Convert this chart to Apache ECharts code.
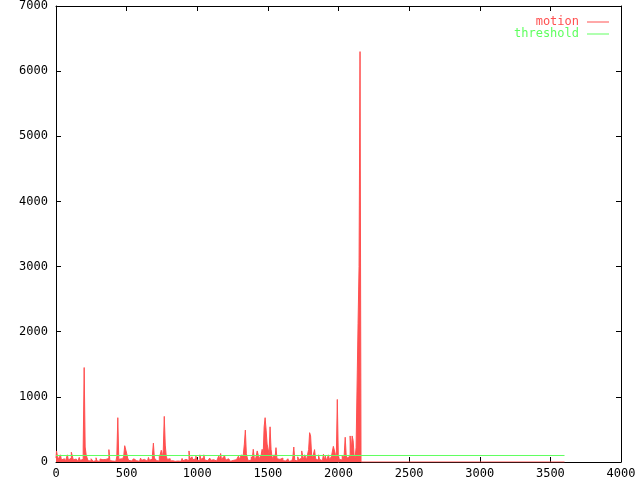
<!DOCTYPE html>
<html>
<head>
<meta charset="utf-8">
<script src="https://cdn.jsdelivr.net/npm/echarts@6/dist/echarts.min.js"></script>
<style>
  html, body { margin: 0; padding: 0; background: #fff; }
  #motionChart { width: 640px; height: 480px; }
</style>
</head>
<body>
<div id="motionChart"></div>
<script>
// sample spacing (seconds) of the motion readings
const sampleStep = 7
// motion level per sample
const motionValues = [
  60, 170, 90, 40, 20, 110, 30, 15, 50, 25,
  10, 40, 110, 30, 20, 60, 150, 120, 35, 15,
  45, 20, 10, 30, 70, 25, 15, 40, 230, 1450,
  230, 110, 60, 20, 35, 15, 50, 25, 10, 40,
  20, 65, 15, 30, 10, 45, 20, 35, 15, 25,
  40, 10, 30, 55, 190, 20, 35, 15, 45, 25,
  10, 30, 80, 680, 40, 20, 50, 15, 30, 90,
  250, 220, 130, 60, 25, 40, 15, 30, 10, 50,
  35, 20, 15, 45, 10, 30, 60, 25, 15, 40,
  20, 50, 10, 35, 70, 25, 15, 45, 100, 290,
  60, 30, 20, 40, 15, 85, 120, 180, 60, 180,
  700, 260, 90, 40, 25, 50, 15, 30, 20, 45,
  10, 35, 20, 15, 40, 25, 10, 30, 55, 20,
  15, 40, 25, 60, 20, 170, 45, 25, 80, 35,
  15, 50, 90, 30, 60, 20, 110, 40, 15, 70,
  110, 30, 50, 20, 40, 15, 60, 25, 10, 35,
  20, 45, 15, 30, 55, 90, 40, 130, 20, 60,
  35, 95, 25, 15, 50, 20, 40, 10, 30, 25,
  45, 15, 35, 60, 20, 90, 40, 25, 110, 75,
  120, 275, 490, 130, 60, 20, 45, 30, 80, 40,
  195, 60, 25, 90, 170, 140, 50, 30, 110, 195,
  100, 540, 680, 490, 275, 250, 120, 540, 195, 80,
  40, 110, 60, 220, 50, 25, 40, 15, 30, 60,
  20, 45, 15, 35, 25, 50, 10, 40, 20, 30,
  60, 230, 25, 45, 15, 80, 35, 20, 60, 170,
  90, 40, 110, 70, 30, 120, 190, 450, 400, 120,
  60, 30, 190, 50, 80, 25, 110, 40, 60, 20,
  45, 120, 35, 90, 25, 60, 110, 40, 20, 80,
  50, 240, 260, 120, 60, 960, 110, 40, 70, 30,
  90, 50, 120, 380, 100, 60, 40, 90, 400, 150,
  400, 330, 110, 60, 220, 220, 2130, 3000, 6300, 0
]
// after the burst the sensor stays quiet until the end of the log
const idleEnd = 3600
const idleValue = 0
// threshold line
const thresholdTimes = [0, 3600]
const thresholdValues = [100, 100]

const xTicks = [0, 500, 1000, 1500, 2000, 2500, 3000, 3500, 4000]
const yTicks = [0, 1000, 2000, 3000, 4000, 5000, 6000, 7000]

const motionData = motionValues.map((v, i) => [i * sampleStep, v])
motionData.push([idleEnd, idleValue])
const thresholdData = thresholdTimes.map((t, i) => [t, thresholdValues[i]])

const monoFont = 'DejaVu Sans Mono'
const red = '#ff5050'
const green = '#60ff60'

const axisCommon = {
  axisLine: { show: true, onZero: false, lineStyle: { color: '#000', width: 1 } },
  axisTick: { show: true, inside: true, length: 5, lineStyle: { color: '#000' } },
  splitLine: { show: false }
}
const plainLabel = (v) => String(v)

const myChart = echarts.init(document.getElementById('motionChart'), null, { renderer: 'canvas' })
myChart.setOption({
  animation: false,
  backgroundColor: '#fff',
  grid: { left: 56, right: 19, top: 5, bottom: 18, containLabel: false },
  legend: {
    orient: 'vertical',
    right: 26,
    top: 11,
    align: 'right',
    itemWidth: 22,
    itemHeight: 11,
    itemGap: 0,
    icon: 'path://M0,5 L22,5 L22,6 L0,6 Z',
    textStyle: { fontFamily: monoFont, fontSize: 12, padding: [0, 3, 0, 0] },
    data: [
      { name: 'motion', textStyle: { color: red } },
      { name: 'threshold', textStyle: { color: green } }
    ]
  },
  xAxis: [
    Object.assign({}, axisCommon, {
      type: 'value', min: xTicks[0], max: xTicks[xTicks.length - 1], interval: 500,
      axisLabel: { color: '#000', fontFamily: monoFont, fontSize: 12, margin: 6, formatter: plainLabel }
    }),
    Object.assign({}, axisCommon, {
      type: 'value', position: 'top', min: xTicks[0], max: xTicks[xTicks.length - 1], interval: 500,
      axisLabel: { show: false }
    })
  ],
  yAxis: [
    Object.assign({}, axisCommon, {
      type: 'value', min: yTicks[0], max: yTicks[yTicks.length - 1], interval: 1000,
      axisLabel: { color: '#000', fontFamily: monoFont, fontSize: 12, margin: 8, formatter: plainLabel }
    }),
    Object.assign({}, axisCommon, {
      type: 'value', position: 'right', min: yTicks[0], max: yTicks[yTicks.length - 1], interval: 1000,
      axisLabel: { show: false }
    })
  ],
  series: [
    {
      name: 'motion',
      type: 'line',
      data: motionData,
      step: 'middle',
      showSymbol: false,
      symbol: 'none',
      z: 3,
      lineStyle: { color: red, width: 1 },
      areaStyle: { color: red, opacity: 1 },
      itemStyle: { color: red }
    },
    {
      name: 'threshold',
      type: 'line',
      data: thresholdData,
      showSymbol: false,
      symbol: 'none',
      z: 4,
      lineStyle: { color: green, width: 1 },
      itemStyle: { color: green }
    }
  ]
})
</script>
</body>
</html>
